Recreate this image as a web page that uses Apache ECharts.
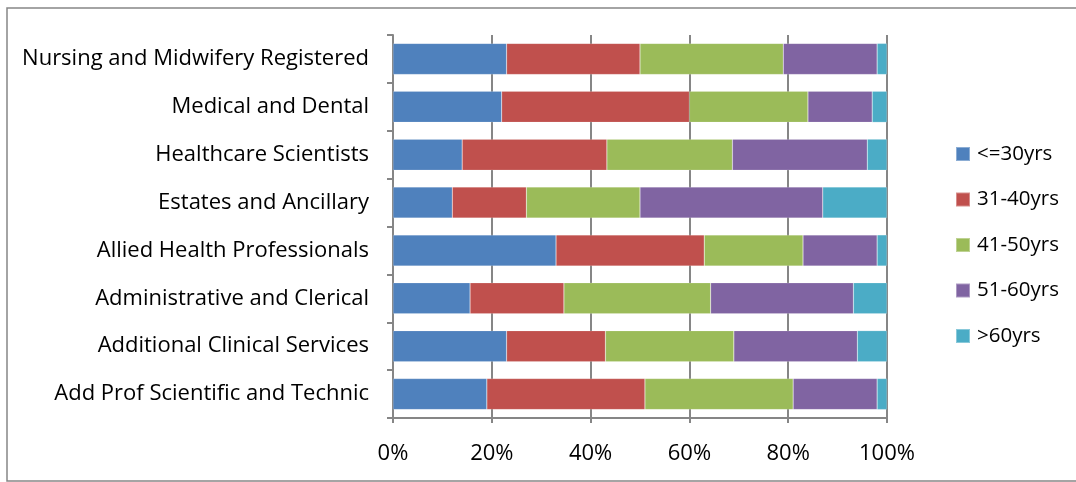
<!DOCTYPE html>
<html>
<head>
<meta charset="utf-8">
<script src="https://cdn.jsdelivr.net/npm/echarts@6/dist/echarts.min.js"></script>
<style>
  html, body { margin: 0; padding: 0; background: #fff; }
  #chart { width: 1076px; height: 482px; }
</style>
</head>
<body>
<div id="chart"></div>
<script>
// Staff groups, listed top to bottom
const categories = [
  'Nursing and Midwifery Registered',
  'Medical and Dental',
  'Healthcare Scientists',
  'Estates and Ancillary',
  'Allied Health Professionals',
  'Administrative and Clerical',
  'Additional Clinical Services',
  'Add Prof Scientific and Technic'
];

// Share of staff (%) in each age band
const ageUpTo30 = [23, 22, 14, 12, 33, 15.6, 23, 19];
const age31to40 = [27, 38, 29.3, 15, 30, 19, 20, 32];
const age41to50 = [29, 24, 25.4, 23, 20, 29.7, 26, 30];
const age51to60 = [19, 13, 27.3, 37, 15, 28.9, 25, 17];
const ageOver60 = [2, 3, 4, 13, 2, 6.8, 6, 2];

const seriesNames = ['<=30yrs', '31-40yrs', '41-50yrs', '51-60yrs', '>60yrs'];
const seriesData = [ageUpTo30, age31to40, age41to50, age51to60, ageOver60];
const colors = ['#4F81BD', '#C0504D', '#9BBB59', '#8064A2', '#4BACC6'];

const xTicks = [0, 20, 40, 60, 80, 100];

const font = 'Open Sans';
const fontSize = 22;
const chart = echarts.init(document.getElementById('chart'), null, { renderer: 'canvas' });

chart.setOption({
  animation: false,
  color: colors,
  textStyle: { fontFamily: font },
  grid: { left: 393, top: 35, right: 189, bottom: 64, containLabel: false },
  legend: {
    orient: 'vertical',
    left: 955,
    top: 143,
    padding: 0,
    itemWidth: 14,
    itemHeight: 14,
    itemGap: 23.5,
    icon: 'rect',
    data: seriesNames,
    textStyle: { fontFamily: font, fontSize: 20.5, color: '#000', lineHeight: 22, padding: [0, 0, 0, 2] }
  },
  xAxis: {
    type: 'value',
    min: xTicks[0],
    max: xTicks[xTicks.length - 1],
    interval: 20,
    axisLine: { show: true, lineStyle: { color: '#868686', width: 2 } },
    axisTick: { show: true, length: 5, lineStyle: { color: '#868686', width: 2 } },
    splitLine: { show: true, lineStyle: { color: '#868686', width: 2 } },
    axisLabel: {
      margin: 25,
      fontFamily: font,
      fontSize: fontSize,
      color: '#000',
      formatter: v => v + '%'
    }
  },
  yAxis: {
    type: 'category',
    inverse: true,
    data: categories,
    axisLine: { show: true, lineStyle: { color: '#868686', width: 2 } },
    axisTick: { show: true, length: 6, lineStyle: { color: '#868686', width: 2 } },
    axisLabel: { margin: 24, fontFamily: font, fontSize: fontSize, color: '#000', padding: [4, 0, 0, 0] }
  },
  series: seriesData.map((d, i) => ({
    name: seriesNames[i],
    type: 'bar',
    stack: 'total',
    barCategoryGap: '35%',
    data: d,
    itemStyle: { borderColor: 'rgba(255,255,255,0.35)', borderWidth: 0.5 }
  })),
  graphic: [
    {
      type: 'polyline',
      shape: { points: [[1076, 8], [7, 8], [7, 481], [1076, 481]] },
      style: { stroke: '#868686', lineWidth: 1.5, fill: null }
    }
  ]
});
</script>
</body>
</html>
